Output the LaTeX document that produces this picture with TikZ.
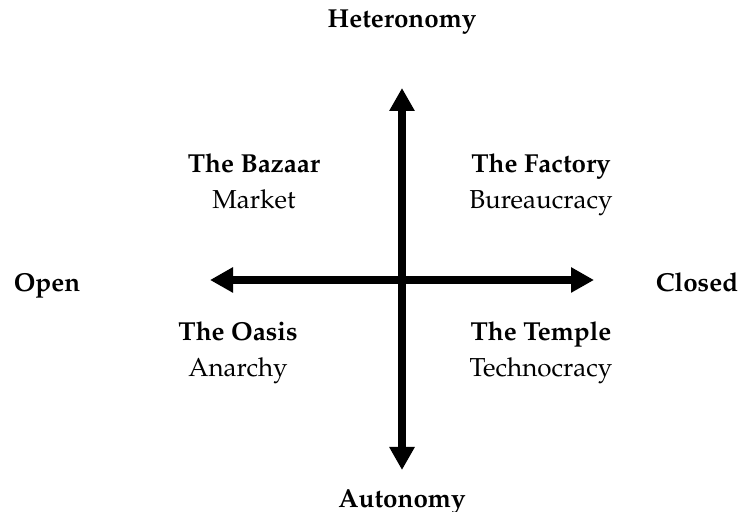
\documentclass[tikz,border=0pt]{standalone}
\usepackage[T1]{fontenc}
\usepackage{mathpazo}
\usetikzlibrary{arrows.meta}

\tikzset{
    axis/.style={line width=4pt, {Triangle[length=11.5pt,width=12pt]}-{Triangle[length=11.5pt,width=12pt]}},
    pole/.style={anchor=base, inner sep=0pt, font=\fontsize{13}{15}\selectfont\bfseries},
    qtitle/.style={anchor=base, inner sep=0pt, font=\fontsize{13}{15}\selectfont\bfseries},
    qsub/.style={anchor=base, inner sep=0pt, font=\fontsize{13}{15}\selectfont}
}

\begin{document}
\begin{tikzpicture}[x=0.5pt, y=-0.5pt]
    \useasboundingbox (0,0) rectangle (741,512);

    % Концы осей
    \coordinate (ctop) at (402,88);
    \coordinate (cbot) at (402,470);
    \coordinate (cleft) at (210,280);
    \coordinate (cright) at (594,280);

    % Оси
    \draw[axis] (ctop) -- (cbot);
    \draw[axis] (cleft) -- (cright);

    % Полюса
    \node[pole] (heter) at (402,28) {Heteronomy};
    \node[pole] (auton) at (402,508) {Autonomy};
    \node[pole] (open) at (47,292) {Open};
    \node[pole] (closed) at (697,292) {Closed};

    % Квадранты
    \node[qtitle] (bazaar) at (254,173) {The Bazaar};
    \node[qsub] (market) at (254,209) {Market};
    \node[qtitle] (factory) at (541,173) {The Factory};
    \node[qsub] (bureau) at (541,209) {Bureaucracy};
    \node[qtitle] (oasis) at (238,341) {The Oasis};
    \node[qsub] (anarchy) at (238,377) {Anarchy};
    \node[qtitle] (temple) at (541,341) {The Temple};
    \node[qsub] (techno) at (541,377) {Technocracy};
\end{tikzpicture}
\end{document}
